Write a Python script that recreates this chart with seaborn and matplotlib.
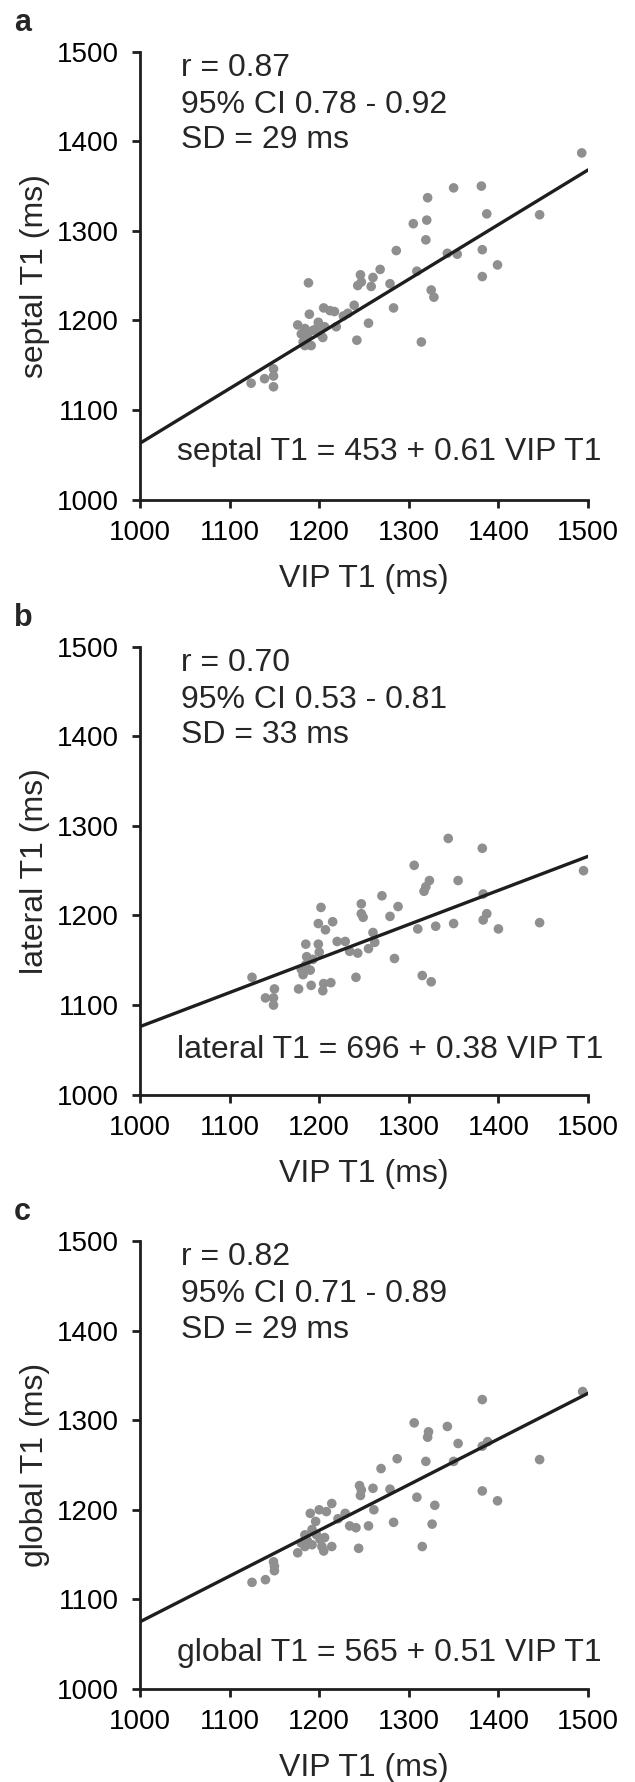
import pandas as pd
import seaborn as sns
import matplotlib.pyplot as plt

# VIP T1 values (ms) -- same subjects in all three panels
# panel a: septal T1 vs VIP T1
septal_vip = [1493, 1350, 1381, 1321, 1387, 1446, 1305, 1320, 1319, 1286, 1343, 1354, 1382, 1399,
              1309, 1382, 1268, 1260, 1246, 1247, 1243, 1258, 1279, 1188, 1325, 1328, 1283, 1239,
              1232, 1227, 1205, 1212, 1217, 1189, 1255, 1219, 1176, 1184, 1199, 1206, 1193, 1180,
              1187, 1201, 1204, 1182, 1184, 1191, 1242, 1314, 1149, 1149, 1139, 1149, 1124, 1197]
septal_t1 = [1387, 1348, 1350, 1337, 1319, 1318, 1308, 1312, 1290, 1278, 1275, 1274, 1279, 1262,
             1255, 1249, 1257, 1248, 1251, 1243, 1239, 1238, 1241, 1242, 1234, 1226, 1214, 1217,
             1208, 1205, 1214, 1211, 1210, 1207, 1197, 1193, 1195, 1191, 1198, 1193, 1189, 1185,
             1182, 1185, 1181, 1176, 1172, 1172, 1178, 1176, 1146, 1138, 1135, 1126, 1130, 1191]

# panel b: lateral T1 vs VIP T1
lateral_vip = [1344, 1382, 1495, 1306, 1323, 1319, 1317, 1355, 1383, 1270, 1288, 1247, 1247, 1249,
               1202, 1279, 1199, 1207, 1215, 1310, 1330, 1350, 1387, 1383, 1400, 1446, 1260, 1262,
               1255, 1220, 1229, 1234, 1243, 1185, 1199, 1200, 1186, 1193, 1284, 1185, 1190, 1182,
               1241, 1315, 1325, 1125, 1177, 1191, 1205, 1213, 1204, 1150, 1140, 1149, 1149, 1180]
lateral_t1 = [1286, 1275, 1250, 1256, 1239, 1232, 1227, 1239, 1224, 1222, 1210, 1213, 1202, 1198,
              1209, 1199, 1191, 1184, 1193, 1185, 1188, 1191, 1202, 1195, 1185, 1192, 1181, 1170,
              1163, 1171, 1171, 1160, 1158, 1168, 1168, 1159, 1154, 1151, 1152, 1145, 1139, 1134,
              1131, 1133, 1126, 1131, 1118, 1122, 1124, 1125, 1116, 1118, 1108, 1108, 1100, 1140]

# panel c: global T1 vs VIP T1
global_vip = [1494, 1382, 1306, 1322, 1321, 1343, 1355, 1388, 1382, 1446, 1287, 1319, 1350, 1269,
              1245, 1247, 1260, 1246, 1279, 1309, 1382, 1399, 1329, 1214, 1190, 1200, 1208, 1229,
              1221, 1261, 1196, 1234, 1241, 1255, 1283, 1326, 1184, 1192, 1197, 1206, 1180, 1187,
              1192, 1184, 1203, 1205, 1214, 1176, 1244, 1315, 1149, 1150, 1150, 1140, 1125, 1201]
global_t1 = [1332, 1323, 1297, 1287, 1281, 1293, 1274, 1276, 1271, 1256, 1257, 1254, 1254, 1246,
             1227, 1222, 1224, 1216, 1223, 1214, 1221, 1210, 1205, 1207, 1196, 1200, 1198, 1196,
             1190, 1200, 1187, 1182, 1180, 1182, 1186, 1184, 1172, 1178, 1172, 1169, 1163, 1165,
             1161, 1159, 1159, 1154, 1159, 1152, 1157, 1159, 1142, 1137, 1132, 1122, 1119, 1167]

panel_letters = ["a", "b", "c"]
region_names = ["septal", "lateral", "global"]
intercepts = [453, 696, 565]
slopes = [0.61, 0.38, 0.51]
r_values = ["0.87", "0.70", "0.82"]
ci_ranges = ["0.78 - 0.92", "0.53 - 0.81", "0.71 - 0.89"]
sd_values = [29, 33, 29]
axis_ticks = [1000, 1100, 1200, 1300, 1400, 1500]

panels = [
    pd.DataFrame({"vip": septal_vip, "t1": septal_t1}),
    pd.DataFrame({"vip": lateral_vip, "t1": lateral_t1}),
    pd.DataFrame({"vip": global_vip, "t1": global_t1}),
]

# text placement in data units
stats_x = 1046
stats_y = [1473, 1432, 1392]
eq_x = 1041
eq_y = [1044, 1041, 1031]

sns.set_style("ticks")
plt.rcParams["font.family"] = ["Liberation Sans", "DejaVu Sans"]
plt.rcParams["axes.linewidth"] = 2.0
plt.rcParams["xtick.major.width"] = 2.0
plt.rcParams["ytick.major.width"] = 2.0
plt.rcParams["xtick.major.size"] = 6
plt.rcParams["ytick.major.size"] = 6

fig = plt.figure(figsize=(6.35, 17.82), dpi=100)

dark = "#1e1e1e"
dot_grey = "#8f8f8f"
big_font = 23

# axes boxes in figure fraction (left, bottom, width, height)
bottoms = [0.7196, 0.3857, 0.0522]

for i, df in enumerate(panels):
    ax = fig.add_axes([0.2205, bottoms[i], 0.7055, 0.2514])

    sns.scatterplot(data=df, x="vip", y="t1", ax=ax, color=dot_grey, s=48,
                    edgecolor="none", linewidth=0, zorder=2, clip_on=False)

    # regression line from the printed equation
    line_df = pd.DataFrame({"vip": [1000, 1500]})
    line_df["t1"] = intercepts[i] + slopes[i] * line_df["vip"]
    sns.lineplot(data=line_df, x="vip", y="t1", ax=ax, color=dark, linewidth=2.4, zorder=3)

    ax.set_xlim(1000, 1500)
    ax.set_ylim(1000, 1500)
    ax.set_xticks(axis_ticks)
    ax.set_yticks(axis_ticks)
    ax.tick_params(axis="both", labelsize=20, colors=dark, labelcolor="black")
    ax.tick_params(axis="x", pad=8.5)
    ax.tick_params(axis="y", pad=9)
    for side in ["left", "bottom"]:
        ax.spines[side].set_color(dark)
    sns.despine(ax=ax)

    ax.set_xlabel("VIP T1 (ms)", fontsize=big_font, labelpad=13)
    ax.set_ylabel(f"{region_names[i]} T1 (ms)", fontsize=big_font, labelpad=5)

    ax.text(stats_x, stats_y[0], f"r = {r_values[i]}", fontsize=big_font, va="baseline")
    ax.text(stats_x, stats_y[1], f"95% CI {ci_ranges[i]}", fontsize=big_font, va="baseline")
    ax.text(stats_x, stats_y[2], f"SD = {sd_values[i]} ms", fontsize=big_font, va="baseline")
    ax.text(eq_x, eq_y[i], f"{region_names[i]} T1 = {intercepts[i]} + {slopes[i]:.2f} VIP T1",
            fontsize=big_font, va="baseline", clip_on=False)

    top_px = 1782 * (1 - bottoms[i] - 0.2514)
    fig.text(14 / 635, 1 - (top_px - 29) / 1782, panel_letters[i], fontsize=22,
             fontweight="bold", va="center", ha="left")

plt.savefig("out.png", dpi=100)
plt.close()
